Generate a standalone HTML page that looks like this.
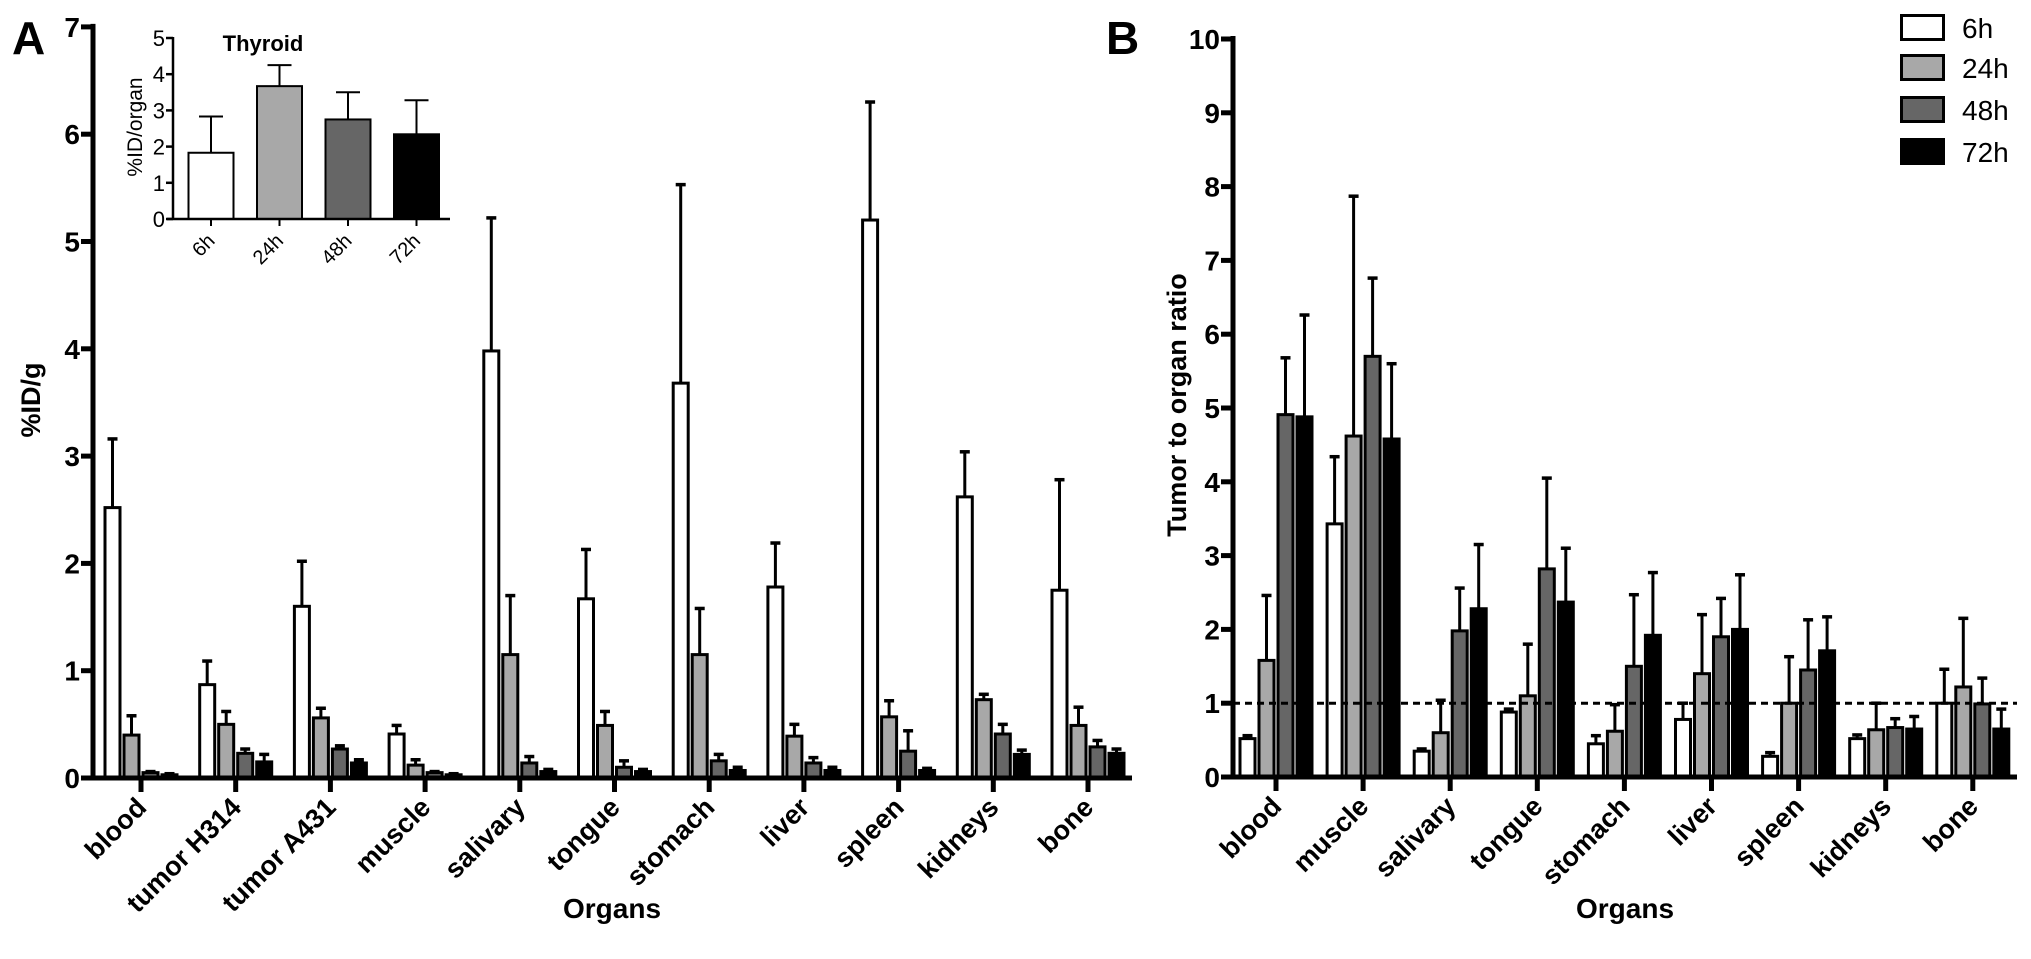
<!DOCTYPE html>
<html><head><meta charset="utf-8"><style>
body{margin:0;background:#fff;}
svg{display:block;font-family:"Liberation Sans",Arial,sans-serif;}
</style></head><body>
<svg id="fig" width="2031" height="959" viewBox="0 0 2031 959" xmlns="http://www.w3.org/2000/svg"></svg>
<script>
const timepoints = ["6h","24h","48h","72h"];
const fills = ["#ffffff","#a8a8a8","#666666","#000000"];
// Panel A
const organsA = ["blood","tumor H314","tumor A431","muscle","salivary","tongue","stomach","liver","spleen","kidneys","bone"];
const a6 = [2.52,0.87,1.6,0.41,3.98,1.67,3.68,1.78,5.2,2.62,1.75];
const a24 = [0.4,0.5,0.56,0.12,1.15,0.49,1.15,0.39,0.57,0.73,0.49];
const a48 = [0.05,0.23,0.27,0.05,0.14,0.1,0.16,0.14,0.25,0.41,0.29];
const a72 = [0.03,0.15,0.14,0.03,0.06,0.06,0.07,0.07,0.07,0.22,0.23];
const a6e = [3.16,1.09,2.02,0.49,5.22,2.13,5.53,2.19,6.3,3.04,2.78];
const a24e = [0.58,0.62,0.65,0.17,1.7,0.62,1.58,0.5,0.72,0.78,0.66];
const a48e = [0.06,0.27,0.3,0.06,0.2,0.16,0.22,0.19,0.44,0.5,0.35];
const a72e = [0.04,0.22,0.17,0.04,0.08,0.08,0.1,0.1,0.09,0.26,0.27];
const ticksA = [0,1,2,3,4,5,6,7];
// Panel B
const organsB = ["blood","muscle","salivary","tongue","stomach","liver","spleen","kidneys","bone"];
const b6 = [0.52,3.43,0.35,0.88,0.45,0.78,0.28,0.52,1.0];
const b24 = [1.58,4.62,0.6,1.1,0.62,1.4,1.0,0.64,1.22];
const b48 = [4.91,5.7,1.98,2.82,1.5,1.9,1.45,0.67,0.99];
const b72 = [4.88,4.58,2.28,2.37,1.92,2.0,1.71,0.65,0.65];
const b6e = [0.56,4.34,0.38,0.92,0.56,1.0,0.33,0.57,1.46];
const b24e = [2.46,7.87,1.04,1.8,0.98,2.2,1.63,1.0,2.15];
const b48e = [5.68,6.76,2.56,4.05,2.47,2.42,2.13,0.79,1.34];
const b72e = [6.26,5.6,3.15,3.1,2.77,2.74,2.17,0.82,0.92];
const ticksB = [0,1,2,3,4,5,6,7,8,9,10];
const refLineB = 1;
// Inset (thyroid)
const thyVals = [1.83,3.67,2.75,2.34];
const thyErr = [2.83,4.25,3.5,3.28];
const ticksInset = [0,1,2,3,4,5];

const NS="http://www.w3.org/2000/svg";
const svg=document.getElementById('fig');
function mk(tag,attrs,parent){const e=document.createElementNS(NS,tag);for(const k in attrs)e.setAttribute(k,attrs[k]);(parent||svg).appendChild(e);return e;}

function panel(cfg){
  const g=mk('g',{});
  
  
  const y=v=>cfg.y0-v*cfg.unit;
  const x=i=>cfg.c0+i*cfg.step;
  const series=cfg.series, errs=cfg.errs;
  for(let i=0;i<cfg.cats.length;i++){
    for(let s=0;s<4;s++){
      const cx=x(i)+(s-1.5)*cfg.pitch;
      const v=series[s][i], e=errs[s][i];
      const eb=mk('line',{x1:cx,x2:cx,y1:y(v),y2:y(e),stroke:'#000','stroke-width':3},g);
      
      
      const cap=mk('line',{x1:cx-5,x2:cx+5,y1:y(e),y2:y(e),stroke:'#000','stroke-width':3.5},g);
      
      
      const r=mk('rect',{x:cx-cfg.bw/2,y:y(v),width:cfg.bw,height:Math.max(cfg.y0-y(v),0.5),fill:fills[s],stroke:'#000','stroke-width':3},g);
      
      
    }
    const t=mk('line',{x1:x(i),x2:x(i),y1:cfg.y0,y2:cfg.y0+14,stroke:'#000','stroke-width':5},g);
    
    
    const lx=x(i)+7, ly=cfg.y0+31;
    const lb=mk('text',{x:lx,y:ly,'text-anchor':'end','font-size':27,'font-weight':'bold',transform:`rotate(-45 ${lx} ${ly})`},g);
    lb.textContent=cfg.cats[i];
    
    
  }
  if(cfg.ref!==undefined){
    const d=mk('line',{x1:cfg.ax,x2:cfg.xend,y1:y(cfg.ref),y2:y(cfg.ref),stroke:'#000','stroke-width':3,'stroke-dasharray':'7,5'},g);
    
    
  }
  const yt=cfg.ticks;
  const ya=mk('line',{x1:cfg.ax,x2:cfg.ax,y1:y(yt[yt.length-1])-3,y2:cfg.y0+2.5,stroke:'#000','stroke-width':5},g);
  
  
  const xa=mk('line',{x1:cfg.ax-12,x2:cfg.xend,y1:cfg.y0,y2:cfg.y0,stroke:'#000','stroke-width':5},g);
  
  
  for(const v of yt){
    const tk=mk('line',{x1:cfg.ax-12,x2:cfg.ax,y1:y(v),y2:y(v),stroke:'#000','stroke-width':5},g);
    
    
    const tl=mk('text',{x:cfg.ax-13,y:y(v)+10,'text-anchor':'end','font-size':28,'font-weight':'bold'},g);
    tl.textContent=v;
    
    
  }
  const yl=mk('text',{x:cfg.ylx,y:cfg.yly,'text-anchor':'middle','font-size':27,'font-weight':'bold',transform:`rotate(-90 ${cfg.ylx} ${cfg.yly})`},g);
  yl.textContent=cfg.ylabel;
  
  
  const xl=mk('text',{x:cfg.xlx,y:cfg.xly,'text-anchor':'middle','font-size':28,'font-weight':'bold'},g);
  xl.textContent='Organs';
  
  
  const pl=mk('text',{x:cfg.plx,y:54,'font-size':46,'font-weight':'bold'},g);
  pl.textContent=cfg.letter;
  
  
}

panel({name:'panel-a',letter:'A',plx:12,cats:organsA,series:[a6,a24,a48,a72],errs:[a6e,a24e,a48e,a72e],
  y0:778,unit:107.3,c0:141,step:94.7,pitch:19,bw:15,ax:93,xend:1132,ticks:ticksA,
  ylabel:'%ID/g',ylx:40,yly:400,xlx:612,xly:918});
panel({name:'panel-b',letter:'B',plx:1106,cats:organsB,series:[b6,b24,b48,b72],errs:[b6e,b24e,b48e,b72e],
  y0:777,unit:73.8,c0:1276,step:87.1,pitch:19,bw:15,ax:1233,xend:2017,ticks:ticksB,ref:refLineB,
  ylabel:'Tumor to organ ratio',ylx:1186,yly:405,xlx:1625,xly:918});

// Inset
(function(){
  const g=mk('g',{});
  
  
  const y0=219, unit=36.2, ax=173;
  const y=v=>y0-v*unit;
  const x=i=>211+i*68.5;
  for(let i=0;i<4;i++){
    const cx=x(i);
    const eb=mk('line',{x1:cx,x2:cx,y1:y(thyVals[i]),y2:y(thyErr[i]),stroke:'#000','stroke-width':2},g);
    
    
    const cap=mk('line',{x1:cx-12,x2:cx+12,y1:y(thyErr[i]),y2:y(thyErr[i]),stroke:'#000','stroke-width':2},g);
    
    
    const r=mk('rect',{x:cx-22.5,y:y(thyVals[i]),width:45,height:y0-y(thyVals[i]),fill:fills[i],stroke:'#000','stroke-width':2},g);
    
    
    const t=mk('line',{x1:cx,x2:cx,y1:y0,y2:y0+7,stroke:'#000','stroke-width':2},g);
    
    
    const lx=cx+5, ly=y0+23;
    const lb=mk('text',{x:lx,y:ly,'text-anchor':'end','font-size':20,transform:`rotate(-45 ${lx} ${ly})`},g);
    lb.textContent=timepoints[i];
    
    
  }
  const ya=mk('line',{x1:ax,x2:ax,y1:y(5)-1,y2:y0+1,stroke:'#000','stroke-width':2.5},g);
  
  
  const xa=mk('line',{x1:ax-6,x2:450,y1:y0,y2:y0,stroke:'#000','stroke-width':2.5},g);
  
  
  for(const v of ticksInset){
    const tk=mk('line',{x1:ax-7,x2:ax,y1:y(v),y2:y(v),stroke:'#000','stroke-width':2.5},g);
    
    
    const tl=mk('text',{x:ax-8,y:y(v)+8,'text-anchor':'end','font-size':22},g);
    tl.textContent=v;
    
    
  }
  const yl=mk('text',{x:142,y:127,'text-anchor':'middle','font-size':21,transform:'rotate(-90 142 127)'},g);
  yl.textContent='%ID/organ';
  
  
  const tt=mk('text',{x:263,y:51,'text-anchor':'middle','font-size':22,'font-weight':'bold'},g);
  tt.textContent='Thyroid';
  
  
})();

// Legend
(function(){
  const g=mk('g',{});
  
  
  const ys=[14,54,96,138];
  for(let i=0;i<4;i++){
    const r=mk('rect',{x:1901.5,y:ys[i]+1.5,width:42,height:24,fill:fills[i],stroke:'#000','stroke-width':3},g);
    
    
    const t=mk('text',{x:1962,y:ys[i]+24,'font-size':28},g);
    t.textContent=timepoints[i];
    
    
  }
})();
</script>
</body></html>
